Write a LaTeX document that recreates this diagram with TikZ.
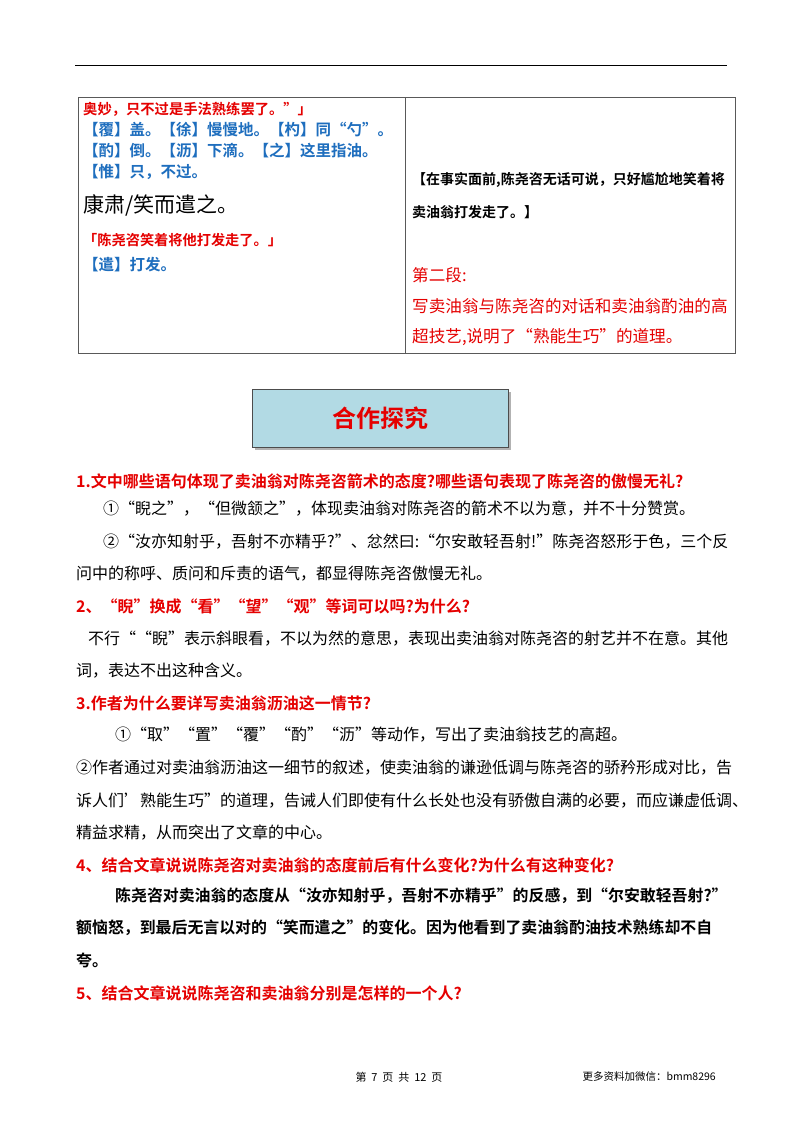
\documentclass[tikz,border=0pt]{standalone}
\usepackage{fontspec}
\setmainfont{Noto Sans CJK SC}
\newfontfamily\cjkb{Noto Sans CJK SC Bold}
\begin{document}
\begin{tikzpicture}[x=1pt,y=-1pt,
  every node/.style={anchor=west,inner sep=0pt},
  red/.style={text=red!90!black},
  blu/.style={text={rgb,255:red,30;green,110;blue,190}},
  qh/.style={red,font=\cjkb\fontsize{16}{17}\selectfont},
  body/.style={font=\fontsize{16}{17}\selectfont},
  bl/.style={blu,font=\cjkb\fontsize{15.5}{17}\selectfont}]
\useasboundingbox[fill=white] (0,0) rectangle (800,1132);
\draw[line width=0.8pt] (75,65) -- (727,65);
\draw[line width=0.7pt,gray!70!black] (78,97) rectangle (735,353);
\draw[line width=0.7pt,gray!70!black] (405,97) -- (405,353);
% left cell
\node[red,font=\cjkb\fontsize{14.3}{15}\selectfont] (l1) at (83,109) {奥妙，只不过是手法熟练罢了。”」};
\node[bl] (l2) at (83,130) {【覆】盖。【徐】慢慢地。【杓】同“勺”。};
\node[bl] (l3) at (83,151) {【酌】倒。【沥】下滴。【之】这里指油。};
\node[bl] (l4) at (83,172) {【惟】只，不过。};
\node[font=\fontsize{21}{22}\selectfont] (l5) at (83,205) {康肃/笑而遣之。};
\node[red,font=\cjkb\fontsize{14.2}{15}\selectfont] (l6) at (83,240) {「陈尧咨笑着将他打发走了。」};
\node[bl] (l7) at (83,265) {【遣】打发。};
% right cell
\node[font=\cjkb\fontsize{14}{15}\selectfont] (R1) at (412,180) {【在事实面前,陈尧咨无话可说，只好尴尬地笑着将};
\node[font=\cjkb\fontsize{14}{15}\selectfont] (R2) at (412,212) {卖油翁打发走了。】};
\node[red,font=\fontsize{16.6}{17}\selectfont] (R3) at (412,275) {第二段:};
\node[red,font=\fontsize{16.6}{17}\selectfont] (R4) at (412,306) {写卖油翁与陈尧咨的对话和卖油翁酌油的高};
\node[red,font=\fontsize{16.6}{17}\selectfont] (R5) at (412,337) {超技艺,说明了“熟能生巧”的道理。};
% banner
\fill[gray!60] (255,392) rectangle (511,450);
\draw[fill={rgb,255:red,178;green,218;blue,228},draw=gray!60!black,line width=1pt] (252,389) rectangle (508,447);
\node[anchor=center,red,font=\cjkb\fontsize{24}{26}\selectfont] (ban) at (380,418) {合作探究};
% Q1
\node[qh] (q1) at (76,481) {1.文中哪些语句体现了卖油翁对陈尧咨箭术的态度?哪些语句表现了陈尧咨的傲慢无礼?};
\node[body] (a11) at (103,509) {①“睨之”，“但微颔之”，体现卖油翁对陈尧咨的箭术不以为意，并不十分赞赏。};
\node[body] (a12) at (103,542) {②“汝亦知射乎，吾射不亦精乎?”、忿然曰:“尔安敢轻吾射!”陈尧咨怒形于色，三个反};
\node[body] (a13) at (76,574) {问中的称呼、质问和斥责的语气，都显得陈尧咨傲慢无礼。};
% Q2
\node[qh] (q2) at (76,606) {2、“睨”换成“看”“望”“观”等词可以吗?为什么?};
\node[body] (a21) at (88,639) {不行““睨”表示斜眼看，不以为然的意思，表现出卖油翁对陈尧咨的射艺并不在意。其他};
\node[body] (a22) at (76,671) {词，表达不出这种含义。};
% Q3
\node[qh] (q3) at (76,703) {3.作者为什么要详写卖油翁沥油这一情节?};
\node[body] (a31) at (115,735) {①“取”“置”“覆”“酌”“沥”等动作，写出了卖油翁技艺的高超。};
\node[body] (a32) at (76,768) {②作者通过对卖油翁沥油这一细节的叙述，使卖油翁的谦逊低调与陈尧咨的骄矜形成对比，告};
\node[body] (a33) at (76,801) {诉人们’熟能生巧”的道理，告诫人们即使有什么长处也没有骄傲自满的必要，而应谦虚低调、};
\node[body] (a34) at (76,833) {精益求精，从而突出了文章的中心。};
% Q4
\node[qh] (q4) at (76,865) {4、结合文章说说陈尧咨对卖油翁的态度前后有什么变化?为什么有这种变化?};
\node[font=\cjkb\fontsize{15.9}{17}\selectfont] (a41) at (115,896) {陈尧咨对卖油翁的态度从“汝亦知射乎，吾射不亦精乎”的反感，到“尔安敢轻吾射?”};
\node[font=\cjkb\fontsize{15.9}{17}\selectfont] (a42) at (76,928) {额恼怒，到最后无言以对的“笑而遣之”的变化。因为他看到了卖油翁酌油技术熟练却不自};
\node[font=\cjkb\fontsize{15.9}{17}\selectfont] (a43) at (76,960) {夸。};
% Q5
\node[qh] (q5) at (76,993) {5、结合文章说说陈尧咨和卖油翁分别是怎样的一个人?};
% footer
\node[anchor=center,font=\fontsize{11}{12}\selectfont] (f1) at (399,1077) {第\ \ 7\ \ 页\ \ 共\ \ 12\ \ 页};
\node[anchor=east,font=\fontsize{10.5}{11}\selectfont] (f2) at (716,1077) {更多资料加微信：bmm8296};
\end{tikzpicture}
\end{document}
